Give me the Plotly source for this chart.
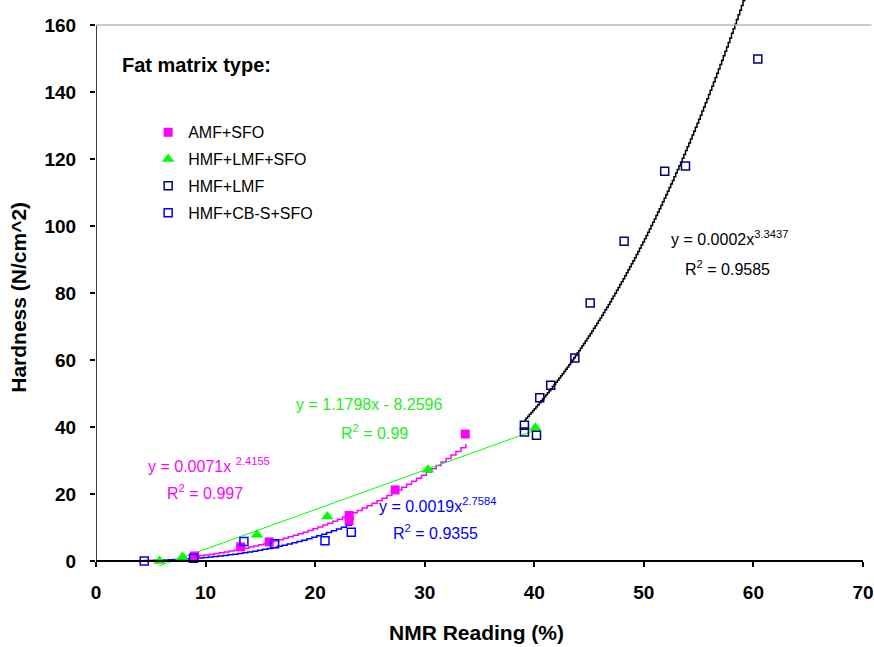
import numpy as np
import plotly.graph_objects as go

# ---- data ----
amf_x = [9.0, 13.2, 15.8, 23.1, 23.1, 27.3, 33.7]
amf_y = [1.5, 4.2, 5.7, 12.0, 13.6, 21.2, 37.9]

hls_x = [5.8, 7.9, 14.7, 21.1, 30.3, 40.1]
hls_y = [0.0, 1.2, 7.8, 13.3, 27.2, 39.8]

hl_x = [39.1, 39.1, 40.2, 40.5, 41.5, 43.7, 45.1, 48.2, 51.9, 53.8, 60.4]
hl_y = [40.5, 38.5, 37.5, 48.7, 52.5, 60.6, 77.0, 95.5, 116.4, 117.9, 149.9]

hcs_x = [4.4, 8.9, 13.5, 16.3, 20.9, 23.3]
hcs_y = [0.0, 0.8, 5.8, 5.1, 6.0, 8.6]

# trendline coefficients as printed on the chart
amf_fit = (0.0071, 2.4155)      # power
hls_fit = (1.1798, -8.2596)     # linear
hl_fit = (0.0002, 3.3437)       # power
hcs_fit = (0.0019, 2.7584)      # power

x_ticks = [0, 10, 20, 30, 40, 50, 60, 70]
y_ticks = [0, 20, 40, 60, 80, 100, 120, 140, 160]

PINK = "#ff00ff"
GREEN = "#00ff00"
NAVY = "#000080"
BLUE = "#0000ff"
FONT = "Liberation Sans, Arial, sans-serif"

fig = go.Figure()


def power_curve(xs, coef, step):
    xx = np.arange(min(xs), max(xs) + step / 2, step)
    return xx, coef[0] * xx ** coef[1]


# trendlines
for xs, coef, col, step in [(hcs_x, hcs_fit, BLUE, 0.45), (amf_x, amf_fit, PINK, 0.45),
                            (hl_x, hl_fit, "black", 0.15)]:
    xx, yy = power_curve(xs, coef, step)
    fig.add_trace(go.Scatter(x=xx, y=yy, mode="lines", line=dict(color=col, width=1.5, shape="hv"),
                             showlegend=False, hoverinfo="skip"))

lx = np.array([min(hls_x), max(hls_x)])
fig.add_trace(go.Scatter(x=lx, y=hls_fit[0] * lx + hls_fit[1], mode="lines",
                         line=dict(color=GREEN, width=1), showlegend=False, hoverinfo="skip"))

# data markers
fig.add_trace(go.Scatter(x=amf_x, y=amf_y, mode="markers", name="AMF+SFO", legendgroup="a",
                         marker=dict(symbol="square", size=9, color=PINK), cliponaxis=False))
fig.add_trace(go.Scatter(x=hls_x, y=hls_y, mode="markers", name="HMF+LMF+SFO", legendgroup="b",
                         marker=dict(symbol="triangle-up", size=11, color=GREEN), cliponaxis=False))
fig.add_trace(go.Scatter(x=hl_x, y=hl_y, mode="markers", name="HMF+LMF", legendgroup="c",
                         marker=dict(symbol="square-open", size=8, color=NAVY, line=dict(width=1.5)),
                         cliponaxis=False))
fig.add_trace(go.Scatter(x=hcs_x, y=hcs_y, mode="markers", name="HMF+CB-S+SFO", legendgroup="d",
                         marker=dict(symbol="square-open", size=8, color=BLUE, line=dict(width=1.5)),
                         cliponaxis=False))

YMIN, YMAX = -3, 167.5

fig.update_layout(
    width=874, height=647,
    margin=dict(l=96, r=8, t=0, b=76),
    paper_bgcolor="white", plot_bgcolor="white",
    font=dict(family=FONT, color="black"),
    showlegend=True,
    legend=dict(x=0.068, y=0.798, xanchor="left", yanchor="top", bgcolor="rgba(0,0,0,0)",
                font=dict(size=16, family=FONT), traceorder="grouped", tracegroupgap=3),
    xaxis=dict(range=[0, 70], tickvals=x_ticks, showgrid=False, zeroline=False,
               showline=True, linecolor="black", linewidth=1.5,
               ticks="outside", ticklen=5, tickcolor="black", tickwidth=1.5,
               tickfont=dict(size=19, family=FONT, weight="bold"), ticklabeloverflow="allow",
               anchor="free", position=(0 - YMIN) / (YMAX - YMIN), ticklabelstandoff=9),
    yaxis=dict(range=[YMIN, YMAX], tickvals=y_ticks, showgrid=False, zeroline=False,
               showline=False, ticks="outside", ticklen=5, tickcolor="black", tickwidth=1.5,
               tickfont=dict(size=19, family=FONT, weight="bold"), ticklabelstandoff=10,
               ticklabeloverflow="allow"),
)

# y axis line up to 160 and grey top line
fig.add_shape(type="line", xref="x", yref="y", x0=0, x1=0, y0=0, y1=160,
              line=dict(color="black", width=1.5))
fig.add_shape(type="line", xref="paper", yref="y", x0=0, x1=1.011, y0=160, y1=160,
              line=dict(color="#b8b8b8", width=1.5))

# titles
fig.add_annotation(text="NMR Reading (%)", xref="paper", yref="paper", x=0.496, y=-0.107,
                   showarrow=False, font=dict(size=21, family=FONT, weight="bold"),
                   xanchor="center", yanchor="middle")
fig.add_annotation(text="Hardness (N/cm^2)", xref="paper", yref="paper", x=-0.1006, y=0.48,
                   textangle=-90, showarrow=False, font=dict(size=21, family=FONT, weight="bold"),
                   xanchor="center", yanchor="middle")
fig.add_annotation(text="Fat matrix type:", xref="paper", yref="paper", x=0.0318, y=0.886,
                   showarrow=False, font=dict(size=20, family=FONT, weight="bold"),
                   xanchor="left", yanchor="middle")

# trendline equations
eqs = [
    ("y = 0.0002x<sup>3.3437</sup>", 52.3, 96.4, "black"),
    ("R<sup>2</sup> = 0.9585", 53.55, 87.5, "black"),
    ("y = 1.1798x - 8.2596", 18.1, 46.6, "#22ee22"),
    ("R<sup>2</sup> = 0.99", 22.2, 38.5, "#22ee22"),
    ("y = 0.0071x <sup>2.4155</sup>", 4.6, 28.7, PINK),
    ("R<sup>2</sup> = 0.997", 6.3, 20.6, PINK),
    ("y = 0.0019x<sup>2.7584</sup>", 25.6, 16.7, BLUE),
    ("R<sup>2</sup> = 0.9355", 26.9, 8.7, BLUE),
]
for t, x, y, c in eqs:
    fig.add_annotation(text=t, x=x, y=y, xref="x", yref="y", showarrow=False,
                       xanchor="left", yanchor="middle", font=dict(size=16, family=FONT, color=c))

fig.write_html("out.html")
